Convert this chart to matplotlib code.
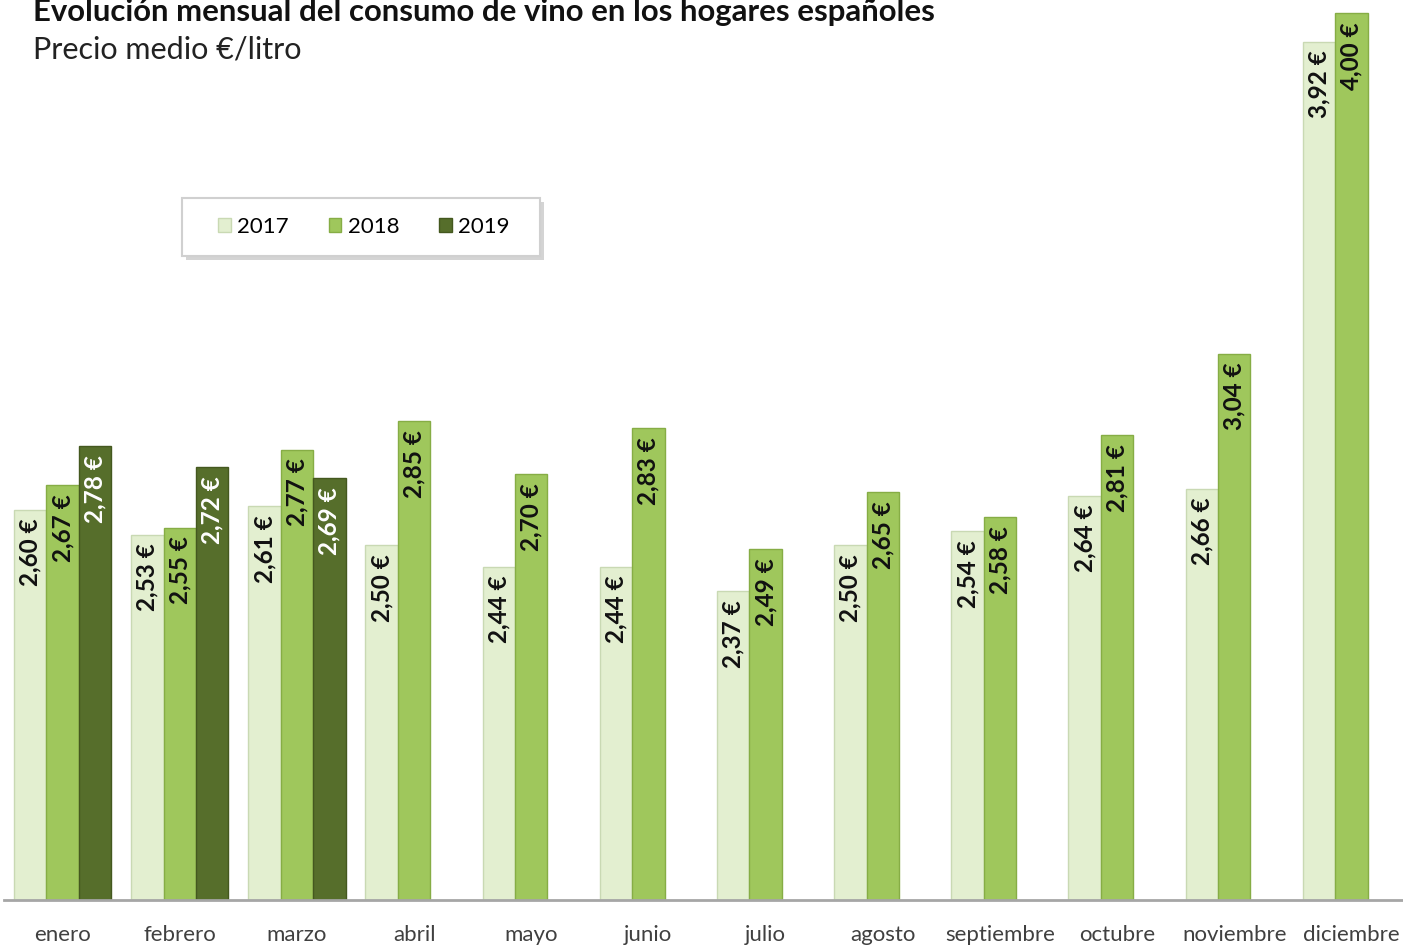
import matplotlib.pyplot as plt
from matplotlib.patches import Rectangle
import numpy as np

plt.rcParams['font.family'] = ['Lato', 'DejaVu Sans']

meses = ['enero', 'febrero', 'marzo', 'abril', 'mayo', 'junio', 'julio',
         'agosto', 'septiembre', 'octubre', 'noviembre', 'diciembre']
p2017 = [2.60, 2.53, 2.61, 2.50, 2.44, 2.44, 2.37, 2.50, 2.54, 2.64, 2.66, 3.92]
p2018 = [2.67, 2.55, 2.77, 2.85, 2.70, 2.83, 2.49, 2.65, 2.58, 2.81, 3.04, 4.00]
p2019 = [2.78, 2.72, 2.69]
anios = ['2017', '2018', '2019']
colores = ['#e3efd0', '#9fc75c', '#566e2b']
bordes = ['#c9d9b3', '#86ad45', '#44581f']
txt_col = ['#111111', '#111111', '#ffffff']

W, H = 1403, 946
fig = plt.figure(figsize=(W / 100, H / 100), dpi=100)
ax = fig.add_axes([4 / W, 46 / H, 1406 / W, 1.0 - 46 / H])

x = np.arange(len(meses))
w = 0.277
series = [p2017, p2018, p2019]
for i, vals in enumerate(series):
    xs = x[:len(vals)] + (i - 1) * w
    ax.bar(xs, [v - 1.5 for v in vals], w, bottom=1.5, color=colores[i],
           edgecolor=bordes[i], linewidth=1.0, label=anios[i], zorder=2)
    for xi, v in zip(xs, vals):
        ax.text(xi, v - 0.025, f'{v:.2f} €'.replace('.', ','), rotation=90,
                ha='center', va='top', fontsize=17.5, fontweight='bold',
                color=txt_col[i], zorder=3)

ax.set_xlim(-0.5, 11.5)
ax.set_ylim(1.5, 4.038)
for s in ['top', 'right', 'left']:
    ax.spines[s].set_visible(False)
ax.spines['bottom'].set_color('#a6a6a6')
ax.spines['bottom'].set_linewidth(2)
ax.set_yticks([])
ax.set_xticks(x)
ax.set_xticklabels(meses, fontsize=16, color='#404040')
ax.tick_params(axis='x', length=0, pad=18)

fig.text(33 / W, 1 - 12 / H, 'Evolución mensual del consumo de vino en los hogares españoles',
         fontsize=22.4, fontweight='bold', color='#111111', va='center', ha='left')
fig.text(33 / W, 1 - 50 / H, 'Precio medio €/litro',
         fontsize=22, color='#222222', va='center', ha='left')

# caja de la leyenda con sombra
fig.patches.append(Rectangle((186 / W, 1 - 260 / H), 358 / W, 58 / H,
                             transform=fig.transFigure, facecolor='#d4d4d4',
                             edgecolor='none', zorder=1))
fig.patches.append(Rectangle((182 / W, 1 - 256 / H), 358 / W, 58 / H,
                             transform=fig.transFigure, facecolor='white',
                             edgecolor='#d0d0d0', linewidth=1.5, zorder=1))
leg = fig.legend(loc='center', bbox_to_anchor=(364 / W, 1 - 227 / H),
                 ncol=3, fontsize=16, frameon=False,
                 handlelength=0.55, handleheight=0.55, handletextpad=0.3,
                 columnspacing=1.8)
leg.set_zorder(5)

fig.savefig('out.png', dpi=100)
